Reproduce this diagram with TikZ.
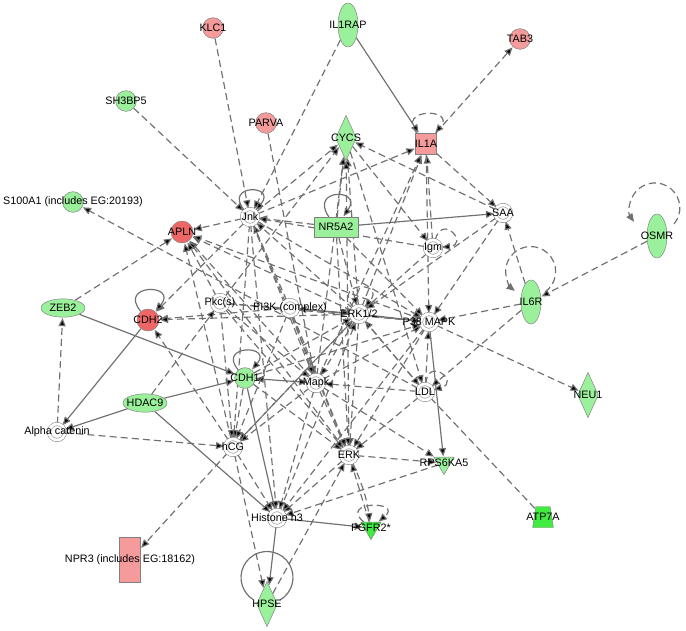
\documentclass[tikz,border=0pt]{standalone}
\usepackage{fontspec}
\setmainfont{Liberation Sans}
\usetikzlibrary{arrows.meta,shapes.geometric,backgrounds}

\definecolor{palered}{RGB}{245,155,155}
\definecolor{deepred}{RGB}{238,102,102}
\definecolor{palegreen}{RGB}{155,240,155}
\definecolor{brightgreen}{RGB}{64,236,64}
\definecolor{linkgray}{RGB}{112,112,112}
\definecolor{rimgray}{RGB}{128,128,128}

\tikzset{
  every label/.style={font=\fontsize{9.2}{10}\selectfont, inner sep=0pt, text=black},
  every loop/.style={},
  >={Triangle[length=7pt,width=6pt]},
  mol/.style={draw=rimgray, line width=0.4pt, inner sep=0pt},
  upball/.style={mol, circle, fill=palered, minimum size=0.62cm},
  hotball/.style={mol, circle, fill=deepred, minimum size=0.66cm},
  downball/.style={mol, circle, fill=palegreen, minimum size=0.62cm},
  downegg/.style={mol, ellipse, fill=palegreen, minimum width=0.6cm, minimum height=1.32cm},
  downoval/.style={mol, ellipse, fill=palegreen, minimum width=1.32cm, minimum height=0.55cm},
  downkite/.style={mol, diamond, fill=palegreen, minimum width=0.62cm, minimum height=1.36cm},
  downbox/.style={mol, rectangle, fill=palegreen, minimum width=1.32cm, minimum height=0.6cm},
  upbox/.style={mol, rectangle, fill=palered, minimum size=0.63cm},
  upslab/.style={mol, rectangle, fill=palered, minimum width=0.63cm, minimum height=1.35cm},
  downtri/.style={mol, regular polygon, regular polygon sides=3, shape border rotate=180, fill=palegreen, minimum size=0.7cm},
  hottri/.style={downtri, fill=brightgreen},
  hotcup/.style={draw=rimgray, line width=0.4pt, inner sep=1pt, trapezium, trapezium stretches=true,
    trapezium left angle=77, trapezium right angle=77, fill=brightgreen, minimum width=0.62cm, minimum height=0.63cm},
  cpx/.style={circle, draw=rimgray, line width=0.45pt, double=white, double distance=2.4pt, fill=white, minimum size=0.48cm, inner sep=0pt},
  link/.style={draw=linkgray, line width=1pt, ->, shorten >=0.5pt},
  dlink/.style={link, dash pattern=on 6pt off 3.5pt},
}

\begin{document}
\begin{tikzpicture}[x=0.03cm, y=-0.03cm]
  \useasboundingbox (0,0) rectangle (686,630);

  % Define the outer molecules
  \node[upball, label=center:KLC1] (klc) at (213,28) {};
  \node[downegg, label=center:IL1RAP] (ilrap) at (348,25) {};
  \node[upball, label=center:TAB3] (tab) at (520,39) {};
  \node[downball, label=center:SH3BP5] (shbp) at (126,101) {};
  \node[upball, label=center:PARVA] (parva) at (266,123) {};
  \node[downkite, label=center:CYCS] (cycs) at (346,138) {};
  \node[upbox, label=center:IL1A] (ila) at (426,144) {};
  \node[downball, label={center:{S100A1 (includes EG:20193)}}] (sa) at (73,202) {};
  \node[hotball, label=center:APLN] (apln) at (182,232) {};
  \node[downbox, label=center:NR5A2] (nr) at (336,227) {};
  \node[downegg, label=center:OSMR] (osmr) at (657,236) {};
  \node[downoval, label=center:ZEB2] (zeb) at (63,308) {};
  \node[hotball, label=center:CDH2] (cdhb) at (148,320) {};
  \node[downegg, label=center:IL6R] (ilsr) at (531,302) {};
  \node[downball, label=center:CDH1] (cdha) at (245,378) {};
  \node[downkite, label=center:NEU1] (neu) at (588,395) {};
  \node[downoval, label=center:HDAC9] (hdac) at (145,403) {};
  \node[downtri, label=center:RPS6KA5] (rps) at (444,463) {};
  \node[hotcup, label=center:ATP7A] (atp) at (543,517) {};
  \node[hottri, label=center:FGFR2*] (fgfr) at (371,528) {};
  \node[upslab, label={center:{NPR3 (includes EG:18162)}}] (npr) at (130,560) {};
  \node[downkite, label=center:HPSE] (hpse) at (267,604) {};

  % Define the complexes and families
  \node[cpx, label=center:Jnk] (jnk) at (250,217) {};
  \node[cpx, label=center:SAA] (saa) at (503,213) {};
  \node[cpx, label=center:Igm] (igm) at (433,248) {};
  \node[cpx, label=center:Pkc(s)] (pkc) at (220,303) {};
  \node[cpx, label={center:{PI3K (complex)}}] (pik) at (290,308) {};
  \node[cpx, label=center:ERK1/2] (erkab) at (359,314) {};
  \node[cpx, label=center:P38 MAPK] (pmapk) at (429,322) {};
  \node[cpx, label=center:Mapk] (mapk) at (316,383) {};
  \node[cpx, label=center:LDL] (ldl) at (425,392) {};
  \node[cpx, label=center:Alpha catenin] (acat) at (57,432) {};
  \node[cpx, label=center:hCG] (hcg) at (233,447) {};
  \node[cpx, label=center:ERK] (erk) at (349,455) {};
  \node[cpx, label=center:Histone h3] (hist) at (277,518) {};

  % Draw the links behind the molecules
  \begin{scope}[on background layer]
    % solid links
    \path[link] (ilrap) edge (ila)  (nr) edge (saa)  (erkab) edge (pmapk)
      (zeb) edge (cdha)  (hdac) edge (cdha) edge (acat) edge (hist)  (cdhb) edge (acat)
      (cdha) edge (hist)  (hist) edge (hpse) edge (fgfr)  (pmapk) edge (rps);
    \path[link, <->] (cdha) edge (mapk)  (pik) edge (erkab);

    % dashed links
    \path[dlink] (klc) edge (jnk)  (shbp) edge (jnk)  (ilrap) edge (jnk)  (nr) edge (jnk)
      (pik) edge (jnk)  (erkab) edge (jnk)  (igm) edge (jnk);
    \path[dlink] (jnk) edge (apln) edge (cdhb) edge (cycs) edge (ila) edge (pmapk)
      edge (mapk) edge (erk) edge (hcg) edge (hist);
    \path[dlink] (nr) edge (cycs)  (erkab) edge (cycs)  (pkc) edge (cycs)  (mapk) edge (cycs)
      (saa) edge (cycs)  (erk) edge (cycs)  (cycs) edge (igm);
    \path[dlink] (erkab) edge (ila)  (mapk) edge (ila)  (igm) edge (ila)
      (ila) edge (tab) edge (saa) edge (pmapk);
    \path[dlink] (zeb) edge (apln)  (erkab) edge (apln)  (pmapk) edge (apln)  (mapk) edge (apln)
      (erk) edge (apln)  (pkc) edge (apln)  (hcg) edge (apln);
    \path[dlink] (pik) edge (cdhb)  (erkab) edge (cdhb)  (hcg) edge (cdhb);
    \path[dlink] (igm) edge (erkab)  (saa) edge (erkab)  (nr) edge (erkab)  (pkc) edge (erkab)
      (hcg) edge (erkab)  (ldl) edge (erkab)  (hist) edge (erkab)  (cdha) edge (erkab);
    \path[dlink] (ilsr) edge (pmapk)  (saa) edge (pmapk)  (nr) edge (pmapk)  (pkc) edge (pmapk)
      (ldl) edge (pmapk)  (mapk) edge (pmapk)  (cdha) edge (pmapk)  (pik) edge (pmapk);
    \path[dlink] (parva) edge (mapk)  (ldl) edge (mapk)  (pik) edge (mapk)  (pkc) edge (mapk)
      (erkab) edge (mapk);
    \path[dlink] (erkab) edge (erk)  (pmapk) edge (erk)  (mapk) edge (erk)  (ldl) edge (erk)
      (cdha) edge (erk)  (pik) edge (erk)  (nr) edge (erk)  (pkc) edge (erk)
      (hpse) edge (erk)  (fgfr) edge (erk)  (erk) edge[bend left=8] (fgfr);
    \path[dlink] (acat) edge (hcg)  (pkc) edge (hcg)  (cdha) edge (hcg)  (erkab) edge (hcg)
      (mapk) edge (hcg)  (pik) edge (hcg);
    \path[dlink] (hcg) edge (hist) edge (hpse) edge (npr)  (erk) edge (hist)  (mapk) edge (hist)
      (rps) edge (hist)  (pmapk) edge (hist);
    \path[dlink] (ilsr) edge (ldl) edge (saa)  (erkab) edge (ldl)  (cycs) edge (ldl)
      (erk) edge (rps)  (mapk) edge (rps)  (ldl) edge (sa)  (pmapk) edge (neu)
      (acat) edge (zeb)  (hdac) edge (pkc)  (osmr) edge (ilsr);
    \path[dlink, -] (ldl) edge (atp);

    % self loops
    \path[link] (jnk) edge[loop, out=130, in=50, min distance=1.05cm] (jnk)
      (nr) edge[loop, out=125, in=55, min distance=1.05cm] (nr)
      (cdhb) edge[loop, out=130, in=50, min distance=1.1cm] (cdhb)
      (cdha) edge[loop, out=130, in=50, min distance=1cm] (cdha);
    \path[dlink] (ila) edge[loop, out=130, in=50, min distance=1cm] (ila)
      (igm) edge[loop, out=75, in=5, min distance=0.85cm] (igm)
      (erkab) edge[loop, out=130, in=50, min distance=1.05cm] (erkab)
      (fgfr) edge[loop, out=140, in=40, min distance=1cm] (fgfr)
      (ldl) edge[loop, out=85, in=15, min distance=0.85cm] (ldl);
    \draw[dlink] ([shift={(14,-10)}]ilsr.center) arc[start angle=-55, end angle=232, radius=0.75cm];
    \draw[dlink] ([shift={(17,-12)}]osmr.center) arc[start angle=-40, end angle=215, radius=0.75cm];
    \draw[link, -] ([shift={(13,-4)}]hpse.center) arc[start angle=-60, end angle=240, radius=0.78cm];
  \end{scope}
\end{tikzpicture}
\end{document}
